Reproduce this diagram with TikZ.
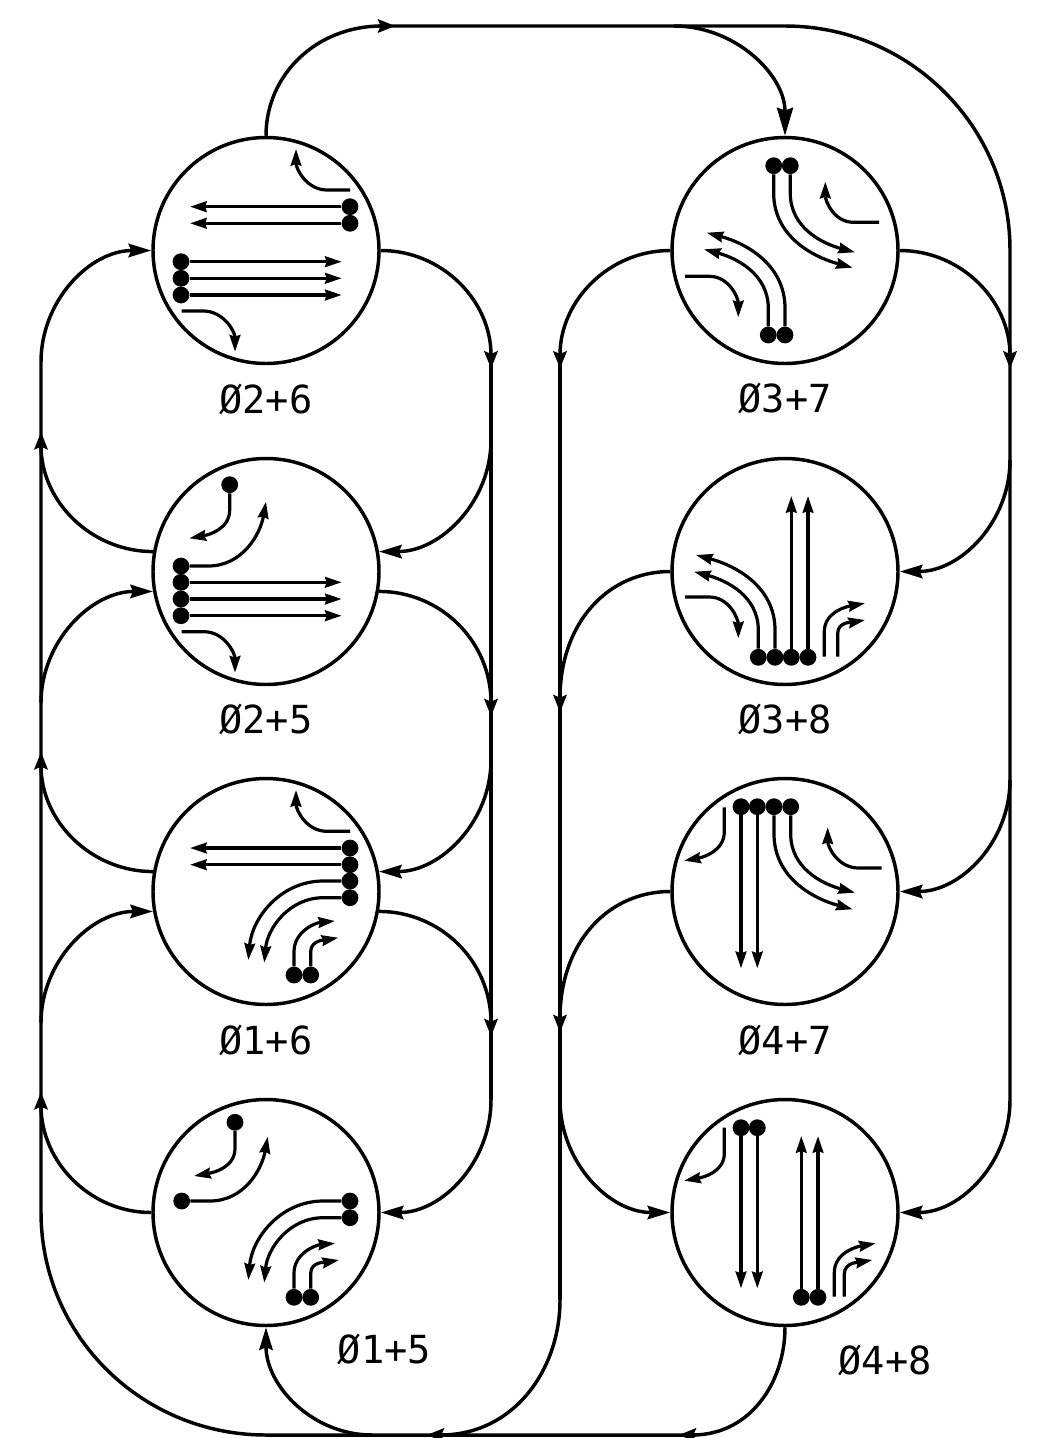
\documentclass[tikz,border=0pt]{standalone}
\usepackage{fontspec}
\setmonofont{DejaVu Sans Mono}
\usetikzlibrary{arrows.meta,positioning}
\begin{document}
\begin{tikzpicture}[
  x=0.75pt, y=-0.75pt,
  phase/.style={draw, circle, line width=2.6pt, minimum size=169.5pt, inner sep=0pt},
  lbl/.style={font=\ttfamily\fontsize{29}{30}\selectfont, inner sep=0pt},
  dot/.style={fill, circle, minimum size=12.6pt, inner sep=0pt},
  bus/.style={line width=2.6pt},
  link/.style={line width=2.6pt, -{Stealth[length=17pt, width=10pt, inset=2pt]}},
  tobus/.style={line width=2.6pt, -{Stealth[length=13pt, width=10pt, inset=2pt]}, shorten >=-#1},
  mv/.style={line width=2.4pt, -{Stealth[length=12.5pt, width=8pt, inset=1.2pt]}}]
\useasboundingbox (0,0) rectangle (1045,1438);
% --- Phase circles and labels ---
\node[phase] (p26) at (266,250.5) {};
\node[phase] (p25) at (266,571.5) {};
\node[phase] (p16) at (266,891.5) {};
\node[phase] (p15) at (266,1212.5) {};
\node[phase] (p37) at (785,250.5) {};
\node[phase] (p38) at (785,571.5) {};
\node[phase] (p47) at (785,891.5) {};
\node[phase] (p48) at (785,1212.5) {};
\node[lbl] (l26) at (266,399) {Ø2+6};
\node[lbl] (l25) at (266,719) {Ø2+5};
\node[lbl] (l16) at (266,1040) {Ø1+6};
\node[lbl] (l15) at (384.5,1349) {Ø1+5};
\node[lbl] (l37) at (785,398) {Ø3+7};
\node[lbl] (l38) at (785,719) {Ø3+8};
\node[lbl] (l47) at (785,1040) {Ø4+7};
\node[lbl] (l48) at (885,1360) {Ø4+8};
% --- Bus points ---
\foreach \n/\x/\y in {la/41/362, lb/41/440, lc/41/703, ld/41/760, le/41/1023, lf/41/1100, lg/41/1212,
  ra/491/362, rb/491/440, rc/491/703, rd/491/760, re/491/1023, rf/491/1100,
  sa/560/362, sb/560/683, sc/560/1003, sd/560/1100, se/560/1300,
  ta/1010/250, tb/1010/362, tc/1010/460, td/1010/780, te/1010/1100,
  topa/378/26, topb/674/26, topc/785/26, bota/266/1435, botb/372/1435, botc/444/1435, botd/696/1435}
  \coordinate (\n) at (\x,\y);
% --- Top and bottom loops ---
\draw[tobus=13pt] (p26.north) to[out=90,in=180] (topa);
\draw[bus] (topa) -- (topc) to[out=0,in=90] (ta) -- (te);
\draw[bus, -{Stealth[length=21pt, width=12pt, inset=2pt]}] (topb) to[out=0,in=90] (p37.north);
\draw[tobus=13pt] (p48.south) to[out=-90,in=0] (botd);
\draw[bus] (botd) -- (bota) to[out=180,in=-90] (lg) -- (la);
\draw[bus] (se) -- (sa);
\draw[tobus=13pt] (se) to[out=-90,in=0] (botc);
\draw[link] (botb) to[out=180,in=-90] (p15.south);
\draw[bus] (ra) -- (rf);
% --- Left column ---
\draw[link] (la) to[out=90,in=180] (p26.west);
\draw[tobus=5pt] (p26.east) to[out=0,in=90] (ra);
\draw[link] (rb) to[out=-90,in=0] (p25.10);
\draw[tobus=6pt] (p25.170) to[out=180,in=-90] (lb);
\draw[link] (lc) to[out=90,in=180] (p25.190);
\draw[tobus=10pt] (p25.350) to[out=0,in=90] (rc);
\draw[link] (rd) to[out=-90,in=0] (p16.10);
\draw[tobus=6pt] (p16.170) to[out=180,in=-90] (ld);
\draw[link] (le) to[out=90,in=180] (p16.190);
\draw[tobus=10pt] (p16.350) to[out=0,in=90] (re);
\draw[link] (rf) to[out=-90,in=0] (p15.east);
\draw[tobus=6pt] (p15.west) to[out=180,in=-90] (lf);
% --- Right column ---
\draw[tobus=5pt] (p37.west) to[out=180,in=90] (sa);
\draw[tobus=5pt] (p37.east) to[out=0,in=90] (tb);
\draw[link] (tc) to[out=-90,in=0] (p38.east);
\draw[tobus=22pt] (p38.west) to[out=180,in=90] (sb);
\draw[link] (td) to[out=-90,in=0] (p47.east);
\draw[tobus=22pt] (p47.west) to[out=180,in=90] (sc);
\draw[link] (sd) to[out=-90,in=180] (p48.west);
\draw[link] (te) to[out=-90,in=0] (p48.east);
% --- Signal heads ---
\foreach \n/\x/\y in {da/350/206.7, db/350/223.3, dc/181/261.7, dd/181/278.3, de/181/295,
  fa/229.7/484.7, fb/181/566, fc/181/582.3, fd/181/599, fe/181/615.7,
  ga/350/848, gb/350/864.7, gc/350/881, gd/350/897.7, ge/294/975, gf/310.7/975,
  ha/235/1122.3, hb/181.7/1201, hc/350/1201, hd/350/1217.7, he/294/1297.3, hf/310.7/1297.3,
  ia/773.7/165.7, ib/790.3/165.7, ic/768.3/335, id/785/335,
  ja/758.3/657.3, jb/775/657.3, jc/791.3/657.3, jd/808/657.3,
  ka/741/806.7, kb/757.3/806.7, kc/774/806.7, kd/790.7/806.7,
  ma/741/1127.7, mb/757.3/1127.7, mc/801.3/1297.3, md/818/1297.3}
  \node[dot] (\n) at (\x,\y) {};
% --- Through movements ---
\foreach \a/\x/\y in {da/190/206.7, db/190/223.3, dc/341.7/261.7, dd/341.7/278.3, de/341.7/295,
  fc/341.7/582.3, fd/341.7/599, fe/341.7/615.7, ga/190/848, gb/190/864.7,
  jc/791.3/496, jd/808/496, ka/741/968.3, kb/757.3/968.3,
  ma/741/1288.3, mb/757.3/1288.3, mc/801.3/1136, md/818/1136}{
  \coordinate (t\a) at (\x,\y);
  \draw[mv] (\a) -- (t\a);
}
% --- Turning movements from a signal head ---
\foreach \a/\bx/\by/\tx/\ty/\o/\i in {
  fa/229.7/510/189.3/538.3/-90/10, fb/208.3/566/266/501.7/0/-100,
  gc/323.3/881/248.3/960/180/85, gd/323.3/897.7/264.3/962.7/180/85,
  ge/294/951.7/335/921/90/185, gf/310.7/951.7/338.3/937.7/90/190,
  ha/235/1148.3/194/1176/-90/10, hb/210/1201/267.7/1136.7/0/-100,
  hc/323.3/1201/248.3/1280/180/85, hd/323.3/1217.7/264.3/1282.7/180/85,
  he/294/1273.3/335/1243.3/90/185, hf/310.7/1273.3/339/1260/90/190,
  ia/773.7/193.3/852.7/267.7/-90/165, ib/790.3/193.3/855/252.3/-90/165,
  ic/768.3/308.3/704/249.3/90/-15, id/785/308.3/706.7/232.7/90/-15,
  ja/758.3/630/694/571.7/90/-15, jb/775/630/696/555/90/-15,
  kc/774/834/852.7/909.3/-90/165, kd/790.7/834/855/892.7/-90/165}{
  \coordinate (b\a) at (\bx,\by);
  \coordinate (t\a) at (\tx,\ty);
  \draw[mv] (\a) -- (b\a) to[out=\o,in=\i] (t\a);
}
% --- Turning movements without a head ---
\foreach \a/\sx/\sy/\bx/\by/\tx/\ty/\o/\i in {
  na/350/190/327/190/296/149/180/-90, nb/181.7/311/203.3/311/235/351.7/0/90,
  nc/181.7/631.7/204/631.7/235/672.7/0/90, nd/350/831.3/326.7/831.3/296/790/180/-90,
  ne/879/222.3/853.3/222.3/825.3/181.7/180/-90, nf/685/276.3/709.3/276.3/738.3/317.3/0/90,
  ng/685/597/709.3/597/738.3/638.3/0/90, nh/824.3/656.7/824.3/631.7/865/603.3/90/190,
  ni/837.7/656.7/837.7/633.3/865/620/90/190, nj/724.3/807.3/724.3/831.7/684/860.7/-90/10,
  nk/881.7/868/858.3/868/827.7/827.3/180/-90, nm/724.3/1127.7/724.3/1153.3/684/1180.7/-90/10,
  nn/834.3/1296.7/834.3/1272.7/875.7/1243.3/90/190, no/844.3/1296.7/844.3/1274/872.3/1260/90/190}{
  \coordinate (s\a) at (\sx,\sy);
  \coordinate (b\a) at (\bx,\by);
  \coordinate (t\a) at (\tx,\ty);
  \draw[mv] (s\a) -- (b\a) to[out=\o,in=\i] (t\a);
}
\end{tikzpicture}
\end{document}
